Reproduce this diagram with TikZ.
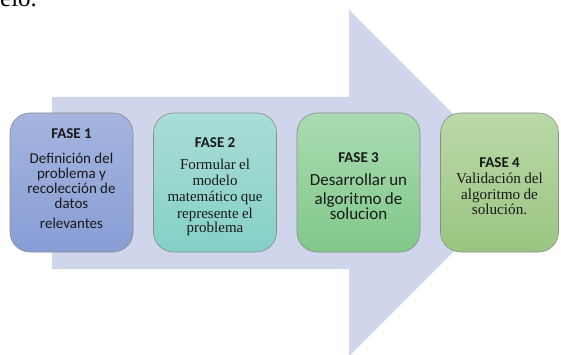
\documentclass[tikz,border=0pt]{standalone}
\usepackage{fontspec}
\setmainfont{Liberation Serif}
\setsansfont{Carlito}
\definecolor{flechacol}{HTML}{CFD5EA}
\definecolor{unotop}{HTML}{A5B5DF}
\definecolor{unobot}{HTML}{879DD5}
\definecolor{dostop}{HTML}{AADDD7}
\definecolor{dosbot}{HTML}{84D0C6}
\definecolor{trestop}{HTML}{AADBB2}
\definecolor{tresbot}{HTML}{80C889}
\definecolor{cuatrotop}{HTML}{BAD9A8}
\definecolor{cuatrobot}{HTML}{9AC581}
\tikzset{fase/.style={rectangle,rounded corners=20pt,draw=black!45,line width=0.6pt,minimum width=123pt,minimum height=139pt,align=center,text width=120pt,inner sep=0pt,text=black!90}}
\tikzset{flecha/.style={fill=flechacol}}
\newcommand{\titfase}[2][0pt]{\rule{0pt}{#1}{\sffamily\bfseries\fontsize{15}{15}\selectfont FASE #2}}

\begin{document}
\begin{tikzpicture}[x=1pt,y=-1pt]
    \useasboundingbox (0,0) rectangle (561,355);
    \node[anchor=base west,inner sep=0pt,font=\fontsize{25}{27}\selectfont] (previo) at (0,7) {elo.};
    \fill[flecha] (52,97) -- (349,97) -- (349,10) -- (522,183) -- (349,356) -- (349,269) -- (52,269) -- cycle;
    \node[fase,top color=unotop,bottom color=unobot] (f1) at (71.5,182.5)
      {\titfase{1}\\[10pt]\sffamily\fontsize{15}{15}\selectfont Definición del\\ problema y\\ recolección de\\ datos\\[8pt] relevantes\rule[-8pt]{0pt}{8pt}};
    \node[fase,top color=dostop,bottom color=dosbot] (f2) at (215,182.5)
      {\titfase[18pt]{2}\\[6pt]\fontsize{15}{16.3}\selectfont Formular el\\ modelo\\ matemático que\\ represente el\\ problema};
    \node[fase,top color=trestop,bottom color=tresbot] (f3) at (358.5,182.5)
      {\titfase[17pt]{3}\\[5pt]\sffamily\fontsize{17}{18.5}\selectfont Desarrollar un\\ algoritmo de\\ solucion};
    \node[fase,top color=cuatrotop,bottom color=cuatrobot,minimum width=118pt,text width=116pt] (f4) at (499.5,182.5)
      {\titfase[17pt]{4}\\\fontsize{15.2}{16}\selectfont Validación del\\ algoritmo de\\ solución.};
  \end{tikzpicture}
\end{document}
